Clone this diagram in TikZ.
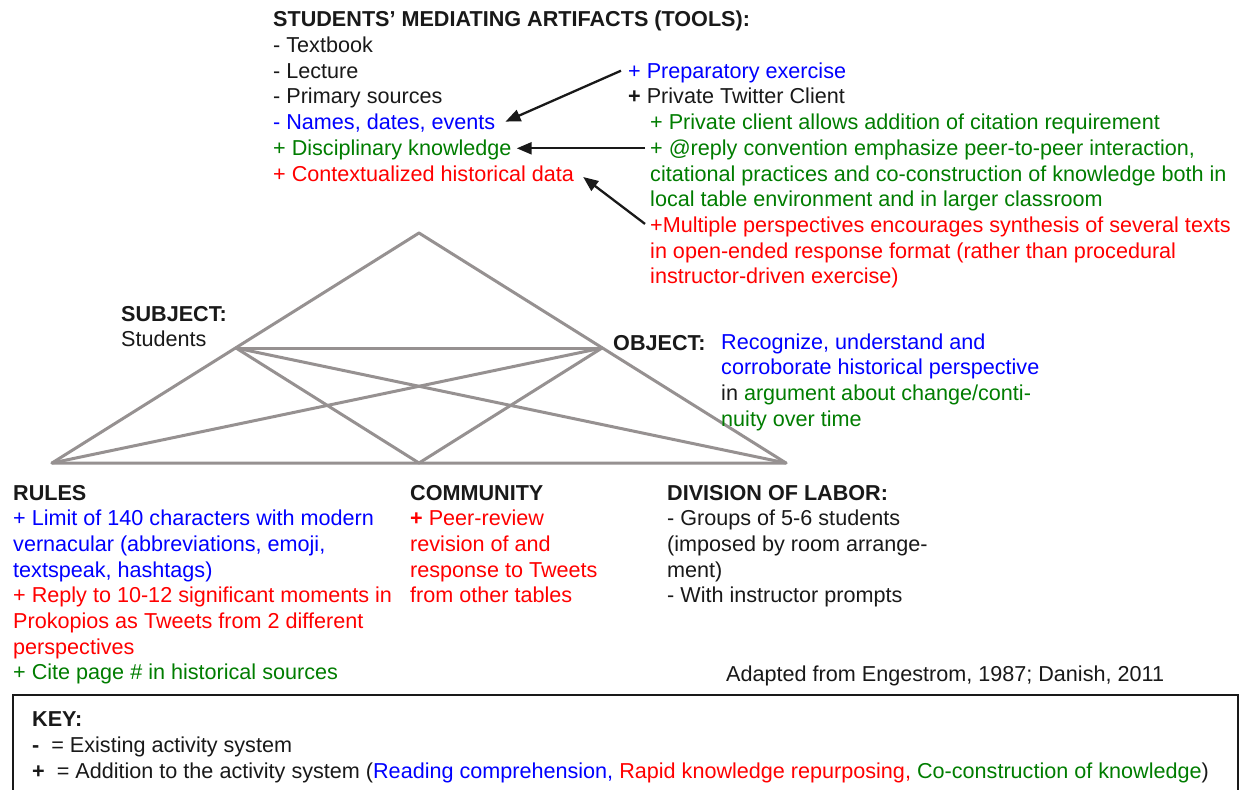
\documentclass[tikz,border=0pt]{standalone}
\usepackage{fontspec}
\setmainfont{Liberation Sans}
\usetikzlibrary{arrows.meta}
\definecolor{cblue}{RGB}{0,0,255}
\definecolor{cgreen}{RGB}{0,125,0}
\definecolor{cred}{RGB}{255,0,0}
\definecolor{cblack}{RGB}{25,25,25}
\definecolor{cgray}{RGB}{150,145,145}
\newcommand{\fnt}{\fontsize{21.6}{25.7}\selectfont}
\begin{document}
\begin{tikzpicture}[x=1pt,y=-1pt,
  tx/.style={anchor=base west,inner sep=0pt,font=\fnt,text=cblack},
  hd/.style={tx,font=\fnt\bfseries},
  bl/.style={tx,text=cblue},
  gr/.style={tx,text=cgreen},
  rd/.style={tx,text=cred},
  edge/.style={draw=cgray,line width=3pt,line cap=round,line join=round},
  arr/.style={draw=cblack,line width=2.3pt,-{Triangle[length=15pt,width=12pt]}},
  keybox/.style={draw=cblack,line width=2pt}]
\clip (0,0) rectangle (1243,790);
\fill[white] (0,0) rectangle (1243,790);

% ---- tools ----
\node[hd] (toolsH) at (273,26.5) {STUDENTS’ MEDIATING ARTIFACTS (TOOLS):};
\node[tx] (t1) at (273,52.5) {- Textbook};
\node[tx] (t2) at (273,78.2) {- Lecture};
\node[tx] (t3) at (273,103.9) {- Primary sources};
\node[bl] (t4) at (273,129.6) {- Names, dates, events};
\node[gr] (t5) at (273,155.3) {+ Disciplinary knowledge};
\node[rd] (t6) at (273,181) {+ Contextualized historical data};

\node[bl] (r1) at (628,78.2) {+ Preparatory exercise};
\node[tx] (r2) at (628,103.9) {\textbf{+} Private Twitter Client};
\node[gr] (r3) at (650,129.6) {+ Private client allows addition of citation requirement};
\node[gr] (r4) at (650,155.3) {+ @reply convention emphasize peer-to-peer interaction,};
\node[gr] (r5) at (650,181) {citational practices and co-construction of knowledge both in};
\node[gr] (r6) at (650,206.7) {local table environment and in larger classroom};
\node[rd] (r7) at (650,232.4) {+Multiple perspectives encourages synthesis of several texts};
\node[rd] (r8) at (650,258.1) {in open-ended response format (rather than procedural};
\node[rd] (r9) at (650,283.8) {instructor-driven exercise)};

\draw[arr] ([xshift=-7pt,yshift=7.5pt]r1.base west) -- ([xshift=10pt,yshift=8pt]t4.base east);
\draw[arr] ([xshift=-5pt,yshift=7pt]r4.base west) -- ([xshift=5pt,yshift=7pt]t5.base east);
\draw[arr] ([xshift=-5pt,yshift=8.5pt]r7.base west) -- ([xshift=9pt,yshift=4pt]t6.base east);

% ---- triangle ----
\coordinate (A) at (419,233);
\coordinate (S) at (236,348);
\coordinate (O) at (602,348);
\coordinate (BL) at (52,463);
\coordinate (BM) at (419,463);
\coordinate (BR) at (786,463);
\draw[edge] (A) -- (BL) -- (BR) -- cycle;
\draw[edge] (S) -- (O);
\draw[edge] (S) -- (BR);
\draw[edge] (S) -- (BM);
\draw[edge] (O) -- (BL);
\draw[edge] (O) -- (BM);

% ---- subject / object ----
\node[hd] (subH) at (121,321) {SUBJECT:};
\node[tx] (sub1) at (121,346.5) {Students};
\node[hd] (objH) at (613,350) {OBJECT:};
\node[bl] (o1) at (721,349) {Recognize, understand and};
\node[bl] (o2) at (721,374.7) {corroborate historical perspective};
\node[tx] (o3) at (721,400.4) {in \textcolor{cgreen}{argument about change/conti-}};
\node[gr] (o4) at (721,426.1) {nuity over time};

% ---- rules ----
\node[hd] (ruH) at (13,500) {RULES};
\node[bl] (u1) at (13,525.7) {+ Limit of 140 characters with modern};
\node[bl] (u2) at (13,551.4) {vernacular (abbreviations, emoji,};
\node[bl] (u3) at (13,577.1) {textspeak, hashtags)};
\node[rd] (u4) at (13,602.8) {+ Reply to 10-12 significant moments in};
\node[rd] (u5) at (13,628.5) {Prokopios as Tweets from 2 different};
\node[rd] (u6) at (13,654.2) {perspectives};
\node[gr] (u7) at (13,679.9) {+ Cite page \# in historical sources};

% ---- community ----
\node[hd] (coH) at (410,500) {COMMUNITY};
\node[rd] (c1) at (410,525.7) {\textbf{+} Peer-review};
\node[rd] (c2) at (410,551.4) {revision of and};
\node[rd] (c3) at (410,577.1) {response to Tweets};
\node[rd] (c4) at (410,602.8) {from other tables};

% ---- division of labor ----
\node[hd] (dlH) at (667,500) {DIVISION OF LABOR:};
\node[tx] (d1) at (667,525.7) {- Groups of 5-6 students};
\node[tx] (d2) at (667,551.4) {(imposed by room arrange-};
\node[tx] (d3) at (667,577.1) {ment)};
\node[tx] (d4) at (667,602.8) {- With instructor prompts};

\node[tx] (src) at (726,681) {Adapted from Engestrom, 1987; Danish, 2011};

% ---- key ----
\draw[keybox] (13,695) rectangle (1238,800);
\node[hd] (keyH) at (32,726) {KEY:};
\node[tx] (k1) at (32,752) {\textbf{-}\ \ = Existing activity system};
\node[tx] (k2) at (32,778) {\textbf{+}\ \ = Addition to the activity system (\textcolor{cblue}{Reading comprehension,} \textcolor{cred}{Rapid knowledge repurposing,} \textcolor{cgreen}{Co-construction of knowledge})};
\end{tikzpicture}
\end{document}
